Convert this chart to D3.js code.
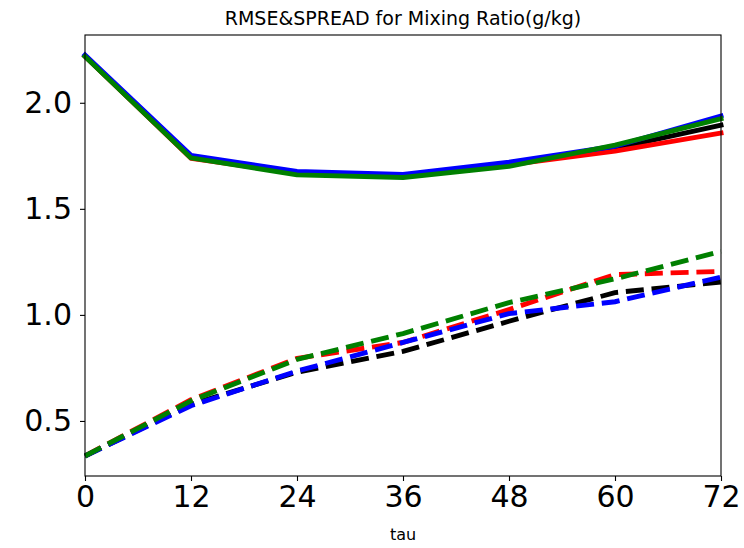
<!DOCTYPE html>
<html>
<head>
<meta charset="utf-8">
<script src="https://cdn.jsdelivr.net/npm/d3@7"></script>
<style>
  html, body { margin: 0; padding: 0; background: #fff; }
  svg { display: block; font-family: "DejaVu Sans", sans-serif; }
</style>
</head>
<body>
<svg id="chart" width="744" height="548"></svg>
<script>
// Forecast lead times (hours)
const tau = [0, 12, 24, 36, 48, 60, 72];
const xTicks = [0, 12, 24, 36, 48, 60, 72];
const yTicks = [0.5, 1.0, 1.5, 2.0];

// RMSE per experiment (solid lines)
const rmseBlack = [2.22, 1.745, 1.672, 1.655, 1.712, 1.785, 1.895];
const rmseRed   = [2.22, 1.738, 1.668, 1.652, 1.708, 1.772, 1.857];
const rmseBlue  = [2.225, 1.752, 1.676, 1.662, 1.720, 1.795, 1.938];
const rmseGreen = [2.218, 1.740, 1.660, 1.648, 1.700, 1.800, 1.925];

// Ensemble spread per experiment (dashed lines)
const spreadBlack = [0.335, 0.578, 0.730, 0.828, 0.970, 1.105, 1.155];
const spreadRed   = [0.335, 0.600, 0.795, 0.870, 1.025, 1.190, 1.205];
const spreadBlue  = [0.335, 0.572, 0.735, 0.870, 1.006, 1.062, 1.178];
const spreadGreen = [0.335, 0.595, 0.790, 0.912, 1.058, 1.170, 1.300];

const series = [
  { values: rmseBlack,   color: "#000000", dashed: false },
  { values: rmseRed,     color: "#ff0000", dashed: false },
  { values: rmseBlue,    color: "#0000ff", dashed: false },
  { values: rmseGreen,   color: "#008000", dashed: false },
  { values: spreadBlack, color: "#000000", dashed: true },
  { values: spreadRed,   color: "#ff0000", dashed: true },
  { values: spreadBlue,  color: "#0000ff", dashed: true },
  { values: spreadGreen, color: "#008000", dashed: true }
];

const plot = { left: 85, right: 721, top: 35, bottom: 476 };
const svg = d3.select("#chart");

// y range: data extent with 5% margin on each side
const allVals = series.flatMap(s => s.values);
const lo = d3.min(allVals), hi = d3.max(allVals);
const pad = (hi - lo) * 0.05;

const x = d3.scaleLinear().domain([0, 72]).range([plot.left, plot.right]);
const y = d3.scaleLinear().domain([lo - pad, hi + pad]).range([plot.bottom, plot.top]);

// Lines
const line = d3.line().x((d, i) => x(tau[i])).y(d => y(d));
const g = svg.append("g");
series.forEach(s => {
  g.append("path")
    .datum(s.values)
    .attr("d", line)
    .attr("fill", "none")
    .attr("stroke", s.color)
    .attr("stroke-width", 4.9)
    .attr("stroke-linejoin", "round")
    .attr("stroke-linecap", s.dashed ? "butt" : "square")
    .attr("stroke-dasharray", s.dashed ? "18,7.8" : null);
});

// Frame
svg.append("rect")
  .attr("x", plot.left).attr("y", plot.top)
  .attr("width", plot.right - plot.left).attr("height", plot.bottom - plot.top)
  .attr("fill", "none").attr("stroke", "#000").attr("stroke-width", 1.1);

// Axes
const xAxis = d3.axisBottom(x).tickValues(xTicks).tickSize(5).tickPadding(5)
  .tickFormat(d3.format("d"));
const yAxis = d3.axisLeft(y).tickValues(yTicks).tickSize(5).tickPadding(8)
  .tickFormat(d3.format(".1f"));

const gx = svg.append("g").attr("transform", `translate(0,${plot.bottom})`).call(xAxis);
const gy = svg.append("g").attr("transform", `translate(${plot.left},0)`).call(yAxis);
[gx, gy].forEach(a => {
  a.select(".domain").remove();
  a.selectAll(".tick line").attr("stroke", "#000").attr("stroke-width", 1.1);
  a.selectAll(".tick text")
    .attr("fill", "#000")
    .style("font-family", "'DejaVu Sans', sans-serif")
    .style("font-size", "30px");
});

// Title and axis label
svg.append("text")
  .attr("x", (plot.left + plot.right) / 2).attr("y", 25)
  .attr("text-anchor", "middle")
  .style("font-size", "19px")
  .text("RMSE&SPREAD for Mixing Ratio(g/kg)");

svg.append("text")
  .attr("x", (plot.left + plot.right) / 2).attr("y", 540)
  .attr("text-anchor", "middle")
  .style("font-size", "16px")
  .text("tau");
</script>
</body>
</html>
